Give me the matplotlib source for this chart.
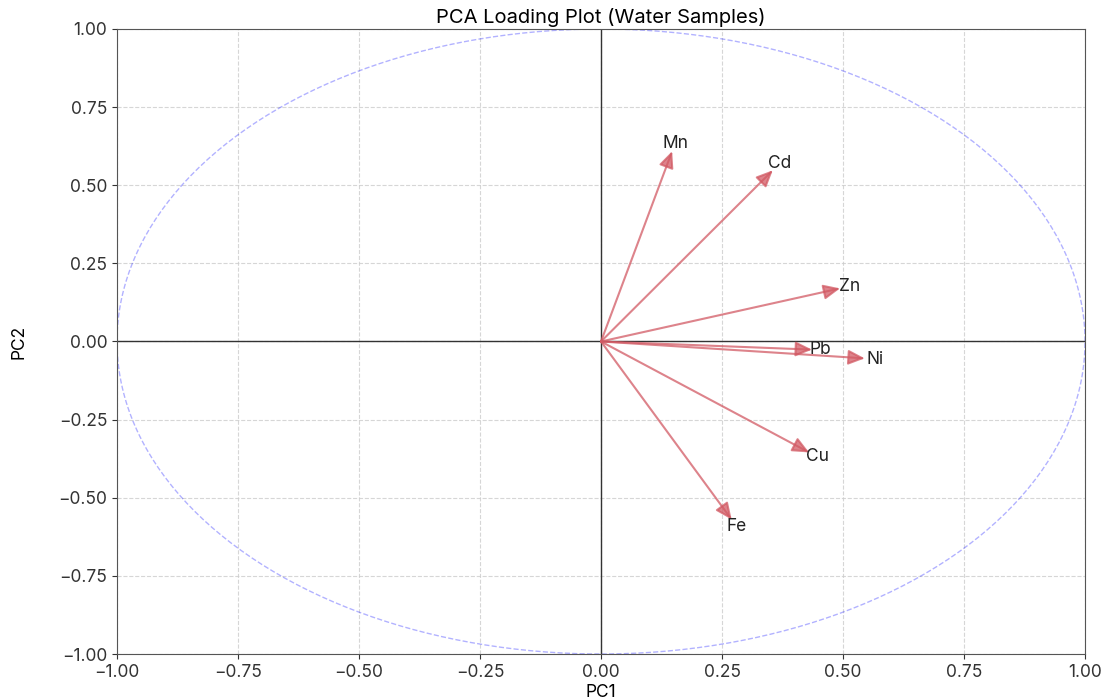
import numpy as np
import matplotlib
matplotlib.use("Agg")
import matplotlib.pyplot as plt

plt.rcParams['font.family'] = ['Inter', 'DejaVu Sans']

variables = ["Mn", "Cd", "Zn", "Pb", "Ni", "Cu", "Fe"]
pc1 = [0.147, 0.355, 0.494, 0.436, 0.545, 0.430, 0.270]
pc2 = [0.609, 0.548, 0.170, -0.026, -0.054, -0.355, -0.570]

title = "PCA Loading Plot (Water Samples)"
xlabel = "PC1"
ylabel = "PC2"

fig = plt.figure(figsize=(11.1, 7.0), dpi=100)
ax = fig.add_axes([0.1054, 0.0657, 0.8721, 0.8929])

arrow_color = "#d25a64"
for name, x, y in zip(variables, pc1, pc2):
    ax.annotate("", xy=(x, y), xytext=(0, 0),
                arrowprops=dict(arrowstyle="-|>,head_length=1.0,head_width=0.45",
                                color=arrow_color, alpha=0.75, lw=1.5,
                                shrinkA=0, shrinkB=0))
    ax.text(x * 1.04, y * 1.04, name, ha="center", va="center",
            fontsize=12.5, color="#222222")

theta = np.linspace(0, 2 * np.pi, 400)
ax.plot(np.cos(theta), np.sin(theta), color="blue", alpha=0.3, ls="--", lw=1)

ax.axhline(0, color="#333333", lw=1)
ax.axvline(0, color="#333333", lw=1)

ax.set_xlim(-1, 1)
ax.set_ylim(-1, 1)
ticks = [-1.0, -0.75, -0.5, -0.25, 0.0, 0.25, 0.5, 0.75, 1.0]
ax.set_xticks(ticks)
ax.set_yticks(ticks)
ax.set_xticklabels([f"{t:.2f}".replace("-", "\u2212") for t in ticks])
ax.set_yticklabels([f"{t:.2f}".replace("-", "\u2212") for t in ticks])
ax.tick_params(labelsize=12.5, colors="#333333")
ax.grid(True, ls="--", color="#cccccc", alpha=0.8)
ax.set_axisbelow(True)
for s in ax.spines.values():
    s.set_color("#555555")

ax.set_title(title, fontsize=14.5, pad=4)
ax.set_xlabel(xlabel, fontsize=12.5, labelpad=2)
ax.set_ylabel(ylabel, fontsize=12.5, labelpad=22)

fig.savefig("out.png", dpi=100)
